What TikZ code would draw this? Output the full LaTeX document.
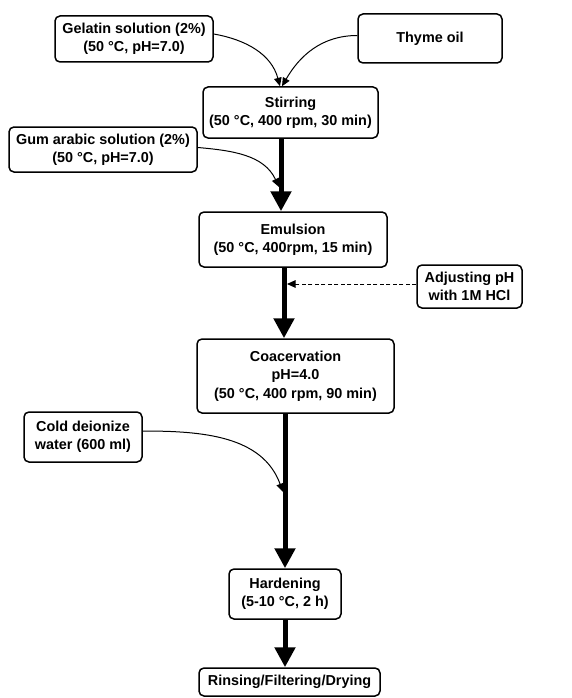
\documentclass[tikz,border=0pt]{standalone}
\usepackage{fontspec}
\setmainfont{Liberation Sans}
\usetikzlibrary{arrows.meta}

\begin{document}
\begin{tikzpicture}[x=1pt,y=-1pt,>=Stealth]
        \tikzset{stage/.style={draw,line width=1.5pt,rounded corners=5pt,align=center,inner sep=2pt,font=\fontsize{14.4}{18.3}\selectfont\bfseries},
          mainflow/.style={line width=5pt,-{Triangle[width=20pt,length=20pt]}},
          feed/.style={line width=1pt,-{Triangle[width=7.5pt,length=8.5pt]}}}
        \useasboundingbox (0,0) rectangle (571,698);
        \node[stage,minimum width=158pt,minimum height=46pt] (gel) at (134,39) {Gelatin solution (2\%)\\(50 °C, pH=7.0)};
        \node[stage,minimum width=144pt,minimum height=49pt] (thyme) at (430,38.5) {Thyme oil};
        \node[stage,minimum width=175pt,minimum height=51pt] (stir) at (290.5,112.5) {Stirring\\(50 °C, 400 rpm, 30 min)};
        \node[stage,minimum width=188pt,minimum height=45pt] (gum) at (103,149.5) {Gum arabic solution (2\%)\\(50 °C, pH=7.0)};
        \node[stage,minimum width=188pt,minimum height=55pt] (emul) at (293,239.5) {Emulsion\\(50 °C, 400rpm, 15 min)};
        \node[stage,minimum width=105pt,minimum height=43pt] (adj) at (469.5,286.5) {Adjusting pH\\with 1M HCl};
        \node[stage,minimum width=197pt,minimum height=74pt] (coac) at (295.5,376) {Coacervation\\pH=4.0\\(50 °C, 400 rpm, 90 min)};
        \node[stage,minimum width=118pt,minimum height=50pt] (cold) at (83,437) {Cold deionize\\water (600 ml)};
        \node[stage,minimum width=112pt,minimum height=50pt] (hard) at (285,594) {Hardening\\(5-10 °C, 2 h)};
        \node[stage,minimum width=181pt,minimum height=28pt] (rinse) at (289.5,682) {Rinsing/Filtering/Drying};
        \coordinate (gumin) at (279,187);
        \coordinate (phin) at (287,284);
        \coordinate (coldin) at (283,492);
        % main line
        \draw[mainflow] ([xshift=-9.5pt]stir.south) -- ([xshift=-9.5pt]stir.south |- emul.north);
        \draw[mainflow] ([xshift=-9pt]emul.south) -- ([xshift=-9pt]emul.south |- coac.north);
        \draw[mainflow] (hard.north |- coac.south) -- (hard.north);
        \draw[mainflow] (hard.south) -- (hard.south |- rinse.north);
        % side inputs
        \draw[feed] ([yshift=5pt]gel.east) to[out=-10,in=105] ([xshift=-10.5pt]stir.north);
        \draw[feed] ([yshift=3pt]thyme.west) to[out=180,in=60] ([xshift=-8.5pt]stir.north);
        \draw[feed] ([yshift=2pt]gum.east) to[out=-5,in=115] (gumin);
        \draw[feed] ([yshift=6pt]cold.east) to[out=0,in=110] (coldin);
        \draw[feed,dash pattern=on 4pt off 2.5pt] (adj.west |- phin) -- (phin);
      \end{tikzpicture}
\end{document}
